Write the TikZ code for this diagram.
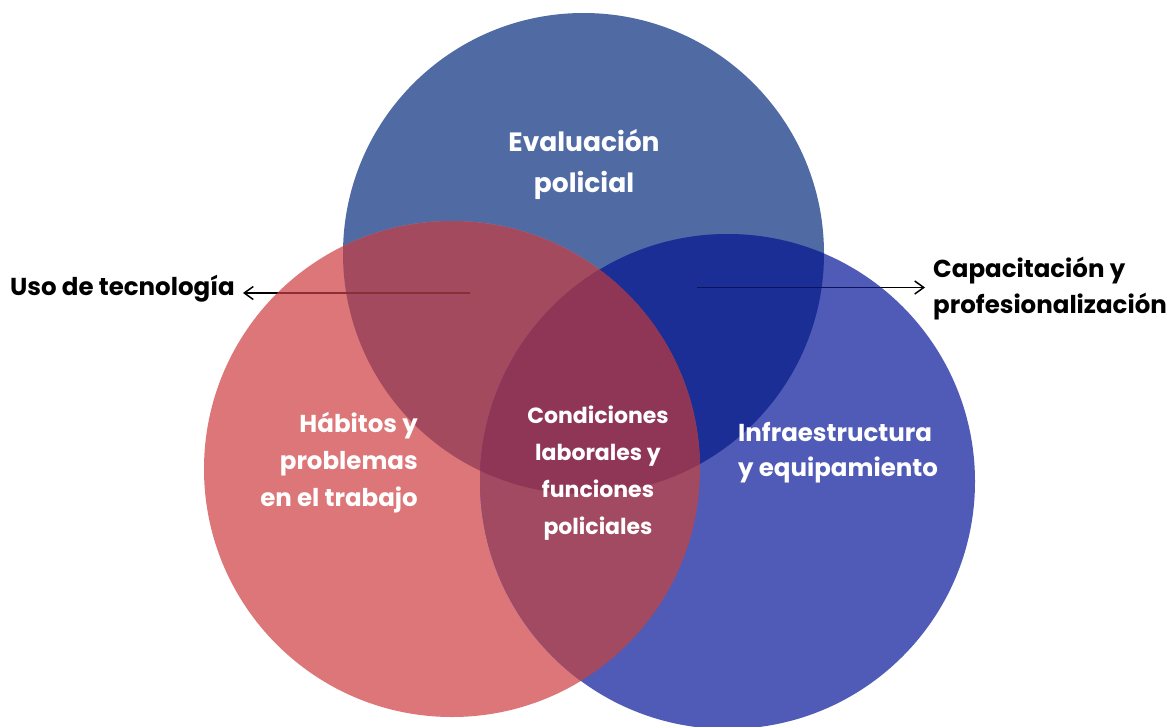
\documentclass[tikz,border=0pt]{standalone}
\usepackage{fontspec}
\setmainfont{Poppins}
\usetikzlibrary{arrows}
\usetikzlibrary{arrows.meta}
\usetikzlibrary{positioning}
\tikzset{circ/.style = {circle, inner sep = 0, minimum size = #1}}
\tikzset{inlabel/.style = {text = white, font = \bfseries\fontsize{24.5}{37}\selectfont, align = center, inner sep = 0}}
\tikzset{outlabel/.style = {text = black, font = \bfseries\fontsize{24.5}{36}\selectfont, align = left, inner sep = 0}}
\tikzset{pointer/.style = {-{Straight Barb[length = 9pt, width = 13pt]}, line width = 1.5pt}}
\definecolor{mtop}{HTML}{506BA3}
\definecolor{mleft}{HTML}{DC7678}
\definecolor{mright}{HTML}{4F5BB6}
\definecolor{mtopleft}{HTML}{A44A5E}
\definecolor{mtopright}{HTML}{1A2E96}
\definecolor{mleftright}{HTML}{A14A62}
\definecolor{mcenter}{HTML}{8F3657}
\definecolor{mredline}{HTML}{8B2E35}
\definecolor{mblueline}{HTML}{0A1460}

\begin{document}
\begin{tikzpicture}[x = 1pt, y = -1pt]
          \useasboundingbox (0, 0) rectangle (1173, 726);

          % circles
          \node [circ = 481pt, fill = mtop] (evaluacion) at (583.5, 253.5) {};
          \node [circ = 496pt, fill = mleft] (habitos) at (452, 469) {};
          \node [circ = 495pt, fill = mright] (infra) at (727.5, 481.5) {};

          % overlaps
          \begin{scope}
            \clip (583.5, 253.5) circle (240.5);
            \fill [mtopleft] (452, 469) circle (248);
            \fill [mtopright] (727.5, 481.5) circle (247.5);
          \end{scope}
          \begin{scope}
            \clip (452, 469) circle (248);
            \fill [mleftright] (727.5, 481.5) circle (247.5);
            \clip (583.5, 253.5) circle (240.5);
            \fill [mcenter] (727.5, 481.5) circle (247.5);
          \end{scope}

          % labels
          \node [inlabel, font = \bfseries\fontsize{26.5}{41}\selectfont] (evaltxt) at (584, 164) {Evaluaci\'on\\policial};
          \node [inlabel, align = right, anchor = east] (habtxt) at (418, 463) {H\'abitos y\\problemas\\en el trabajo};
          \node [inlabel, font = \bfseries\fontsize{22}{37}\selectfont] (condtxt) at (598, 473) {Condiciones\\laborales y\\funciones\\policiales};
          \node [inlabel, align = left, anchor = west, font = \bfseries\fontsize{24.5}{35}\selectfont] (infratxt) at (738, 453) {Infraestructura\\y equipamiento};
          \node [outlabel, anchor = west] (uso) at (10, 289) {Uso de tecnolog\'ia};
          \node [outlabel, anchor = west] (capac) at (933, 288.5) {Capacitaci\'on y\\profesionalizaci\'on};

          % arrows
          \coordinate (tecstart) at (470, 293);
          \coordinate (tecend) at (243, 293);
          \coordinate (capstart) at (697, 287.5);
          \coordinate (capend) at (925, 287.5);
          \draw [pointer] (tecstart) -- (tecend);
          \draw [pointer] (capstart) -- (capend);
          \begin{scope}
            \clip (452, 469) circle (248);
            \draw [mredline, line width = 1.5pt] (tecstart) -- ([xshift = 12pt]tecend);
          \end{scope}
          \begin{scope}
            \clip (727.5, 481.5) circle (247.5);
            \draw [mblueline, line width = 1.5pt] (capstart) -- ([xshift = -12pt]capend);
          \end{scope}
        \end{tikzpicture}
\end{document}
